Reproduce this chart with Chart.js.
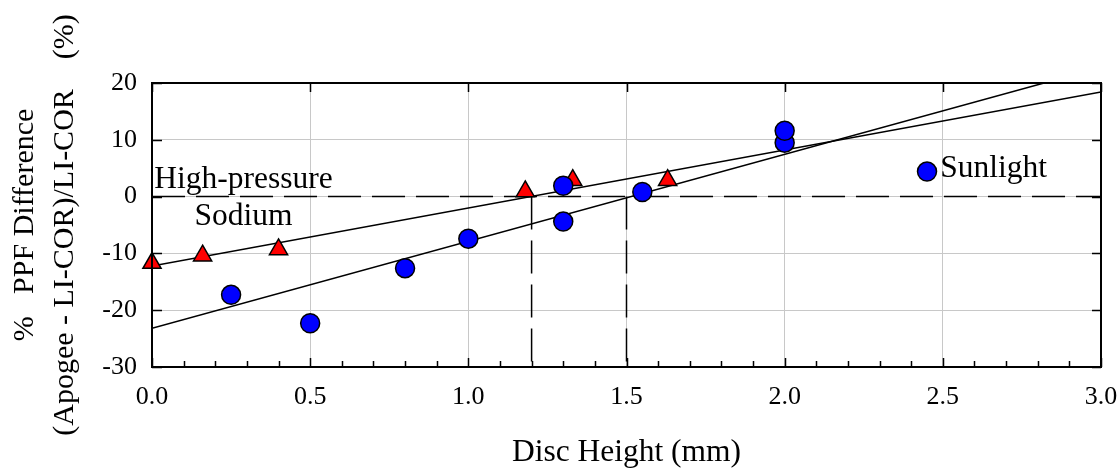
<!DOCTYPE html>
<html>
<head>
<meta charset="utf-8">
<script src="https://cdn.jsdelivr.net/npm/chart.js@4/dist/chart.umd.min.js"></script>
<style>
  html, body { margin: 0; padding: 0; background: #ffffff; }
  #wrap { width: 1120px; height: 468px; position: relative; }
</style>
</head>
<body>
<div id="wrap"><canvas id="c"></canvas></div>
<script>
// ---- Data ----
const hpsX = [0.00, 0.16, 0.40, 1.18, 1.33, 1.63];
const hpsY = [-11.7, -10.4, -9.3, 0.9, 2.9, 2.9];

const sunX = [0.25, 0.50, 0.80, 1.00, 1.30, 1.30, 1.55, 2.00, 2.00, 2.45];
const sunY = [-17.3, -22.3, -12.6, -7.4, 1.9, -4.4, 0.8, 9.5, 11.6, 4.4];

// fitted line end points (as drawn in the reference)
const hpsLineX = [0.0, 3.0];
const hpsLineY = [-12.2, 18.4];
const sunLineX = [0.0, 2.82];
const sunLineY = [-23.2, 20.0];

// dashed reference lines: zero line and x-intercepts
const zeroLineX = [0.0, 3.0];
const zeroLineY = [0, 0];
const interceptX = [1.2, 1.5];
const interceptY = [0, -30];

// axis ticks
const xTickStep = 0.5;
const yTickStep = 10;
const xMinorTicks = [0.1,0.2,0.3,0.4,0.6,0.7,0.8,0.9,1.1,1.2,1.3,1.4,1.6,1.7,1.8,1.9,2.1,2.2,2.3,2.4,2.6,2.7,2.8,2.9];

// text labels
const noteText = ['High-pressure', 'Sodium', 'Sunlight'];
const noteX = [0.289, 0.289, 2.492];
const noteY = [1.5, -5.0, 3.5];
const noteAlign = ['center', 'center', 'left'];

const xTitle = 'Disc Height (mm)';
const yTitle = ['%   PPF Difference', '(Apogee - LI-COR)/LI-COR    (%)'];

const pts = (xs, ys) => xs.map((v, i) => ({x: v, y: ys[i]}));
const SERIF = '"Liberation Serif", "Times New Roman", serif';

const framePlugin = {
  id: 'frame',
  beforeDatasetsDraw(chart) {
    const {ctx, scales: {x, y}} = chart;
    ctx.save();
    ctx.font = '31.5px ' + SERIF;
    ctx.fillStyle = '#000';
    ctx.textBaseline = 'alphabetic';
    noteText.forEach((t, i) => {
      ctx.textAlign = noteAlign[i];
      ctx.fillText(t, x.getPixelForValue(noteX[i]), y.getPixelForValue(noteY[i]));
    });
    ctx.restore();
  },
  afterDraw(chart) {
    const {ctx, chartArea: a, scales: {x, y}} = chart;
    ctx.save();
    ctx.strokeStyle = '#000';
    ctx.lineWidth = 1.5;
    ctx.beginPath();
    x.ticks.forEach(t => {
      const p = Math.round(x.getPixelForValue(t.value)) + 0.5;
      ctx.moveTo(p, a.bottom); ctx.lineTo(p, a.bottom - 9);
      ctx.moveTo(p, a.top); ctx.lineTo(p, a.top + 9);
    });
    xMinorTicks.forEach(v => {
      const p = Math.round(x.getPixelForValue(v)) + 0.5;
      ctx.moveTo(p, a.bottom); ctx.lineTo(p, a.bottom - 6);
    });
    y.ticks.forEach(t => {
      const p = Math.round(y.getPixelForValue(t.value)) + 0.5;
      ctx.moveTo(a.left, p); ctx.lineTo(a.left + 10, p);
      ctx.moveTo(a.right, p); ctx.lineTo(a.right - 9, p);
    });
    ctx.stroke();
    ctx.lineWidth = 2;
    ctx.strokeRect(a.left, a.top, a.right - a.left, a.bottom - a.top);
    ctx.restore();
  }
};

const lineStyle = {
  showLine: true, pointRadius: 0, pointHoverRadius: 0,
  borderColor: '#000', borderWidth: 1.5, fill: false, tension: 0
};

new Chart(document.getElementById('c'), {
  type: 'scatter',
  data: {
    datasets: [
      Object.assign({label: 'zero', data: pts(zeroLineX, zeroLineY), borderDash: [33, 11], order: 10}, lineStyle),
      Object.assign({label: 'hpsIntercept', data: pts([interceptX[0], interceptX[0]], interceptY), borderDash: [33, 11], order: 10}, lineStyle),
      Object.assign({label: 'sunIntercept', data: pts([interceptX[1], interceptX[1]], interceptY), borderDash: [33, 11], order: 10}, lineStyle),
      Object.assign({label: 'hpsFit', data: pts(hpsLineX, hpsLineY), order: 9}, lineStyle),
      Object.assign({label: 'sunFit', data: pts(sunLineX, sunLineY), order: 9}, lineStyle),
      {
        label: 'High-pressure Sodium', data: pts(hpsX, hpsY), clip: false,
        pointStyle: 'triangle', pointRadius: 10.5, pointHoverRadius: 10.5,
        backgroundColor: '#ff0000', borderColor: '#000', borderWidth: 1.5, order: 2
      },
      {
        label: 'Sunlight', data: pts(sunX, sunY), clip: false,
        pointStyle: 'circle', pointRadius: 9.5, pointHoverRadius: 9.5,
        backgroundColor: '#0000ff', borderColor: '#000', borderWidth: 1.5, order: 1
      }
    ]
  },
  options: {
    responsive: true,
    maintainAspectRatio: false,
    animation: false,
    events: [],
    layout: { padding: { top: 83, right: 19, left: 0, bottom: 0 } },
    plugins: { legend: { display: false }, tooltip: { enabled: false } },
    scales: {
      x: {
        type: 'linear', min: 0, max: 3,
        afterFit(s) { s.height = 101; s.paddingLeft = 0; s.paddingRight = 0; },
        ticks: {
          stepSize: xTickStep, padding: 15, color: '#000',
          font: { family: SERIF, size: 26, lineHeight: 1.2 },
          callback: v => Number(v).toFixed(1)
        },
        grid: { color: '#c8c8c8', lineWidth: 1, drawTicks: false },
        border: { display: false },
        title: {
          display: true, text: xTitle, color: '#000',
          font: { family: SERIF, size: 31.5, lineHeight: 1 },
          padding: 0
        }
      },
      y: {
        type: 'linear', min: -30, max: 20,
        afterFit(s) { s.width = 152; s.paddingTop = 0; s.paddingBottom = 0; },
        ticks: {
          stepSize: yTickStep, padding: 15, color: '#000',
          font: { family: SERIF, size: 26 }
        },
        grid: { color: '#c8c8c8', lineWidth: 1, drawTicks: false },
        border: { display: false },
        title: {
          display: true, text: yTitle, color: '#000',
          font: { family: SERIF, size: 30, lineHeight: 1.333 },
          padding: { top: 5, bottom: 0 }
        }
      }
    }
  },
  plugins: [framePlugin]
});
</script>
</body>
</html>
